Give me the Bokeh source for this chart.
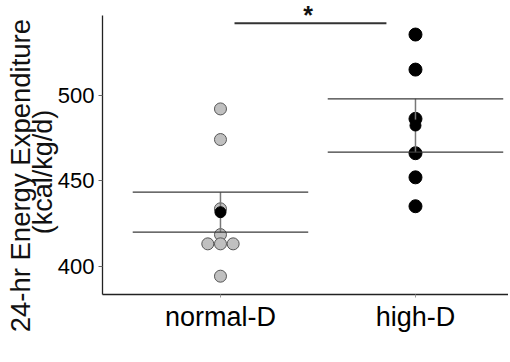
from bokeh.plotting import figure
from bokeh.models import Range1d, FixedTicker, Label
from bokeh.embed import file_html
from bokeh.resources import INLINE
import math

# ---- data ----
categories = ["normal-D", "high-D"]
normal_values = [492.0, 474.1, 433.6, 418.5, 413.1, 413.1, 413.1, 394.2]
normal_dodge = [0.0, 0.0, 0.0, 0.0, -0.065, 0.0, 0.065, 0.0]
high_values = [535.5, 515.0, 486.2, 466.1, 452.0, 435.1]
group_means = [431.6, 482.3]
group_sems = [11.7, 15.6]
y_ticks = [400, 450, 500]
sig_value = 542.1
sig_label = "*"
y_label_1 = "24-hr Energy Expenditure"
y_label_2 = "(kcal/kg/d)"

FONT = "Liberation Sans"

# axis extents (data units)
Y_LO, Y_HI = 383.5, 546.6
X_LO, X_HI = 0.395, 2.477

p = figure(width=508, height=354, output_backend="svg", toolbar_location=None,
           x_range=Range1d(-0.128, 2.477), y_range=Range1d(348.4, 555.4),
           min_border_left=0, min_border_right=0, min_border_top=0, min_border_bottom=0)
p.outline_line_color = None
p.xgrid.visible = False
p.ygrid.visible = False
p.background_fill_color = "white"
p.border_fill_color = "white"

# axes (placed inside the frame so the titles can sit beside them)
p.yaxis.fixed_location = X_LO
p.yaxis.bounds = (Y_LO, Y_HI)
p.yaxis.ticker = FixedTicker(ticks=y_ticks)
p.yaxis.minor_tick_line_color = None
p.yaxis.major_tick_in = 0
p.yaxis.major_tick_out = 4
p.yaxis.major_label_standoff = 4
p.yaxis.major_label_text_font = FONT
p.yaxis.major_label_text_font_size = "22px"
p.yaxis.major_label_text_color = "black"
p.yaxis.axis_line_color = "#222222"
p.yaxis.axis_line_width = 1.3
p.yaxis.major_tick_line_color = "#666666"

p.xaxis.fixed_location = Y_LO
p.xaxis.bounds = (X_LO, X_HI)
p.xaxis.ticker = FixedTicker(ticks=[1, 2])
p.xaxis.major_label_overrides = {i + 1: c for i, c in enumerate(categories)}
p.xaxis.minor_tick_line_color = None
p.xaxis.major_tick_in = 0
p.xaxis.major_tick_out = 3
p.xaxis.major_label_standoff = 5
p.xaxis.major_label_text_font = FONT
p.xaxis.major_label_text_font_size = "27px"
p.xaxis.major_label_text_color = "black"
p.xaxis.axis_line_color = "#222222"
p.xaxis.axis_line_width = 1.3
p.xaxis.major_tick_line_color = "#999999"

# points
p.scatter(x=[1 + d for d in normal_dodge], y=normal_values, size=12,
          fill_color="#c0c0c0", line_color="#555555", line_width=1)
p.scatter(x=[2] * len(high_values), y=high_values, size=13,
          fill_color="black", line_color="black")

# error bars (mean ± SEM)
xs = [1, 2]
lo = [m - s for m, s in zip(group_means, group_sems)]
hi = [m + s for m, s in zip(group_means, group_sems)]
p.segment(x0=xs, y0=lo, x1=xs, y1=hi, line_color="#777777", line_width=1.5)
p.segment(x0=[x - 0.45 for x in xs], y0=hi, x1=[x + 0.45 for x in xs], y1=hi,
          line_color="#3a3a3a", line_width=1.2)
p.segment(x0=[x - 0.45 for x in xs], y0=lo, x1=[x + 0.45 for x in xs], y1=lo,
          line_color="#3a3a3a", line_width=1.2)
p.scatter(x=xs, y=group_means, size=11, fill_color="black", line_color="black")

# significance bar
p.segment(x0=[1.072], y0=[sig_value], x1=[1.851], y1=[sig_value],
          line_color="#333333", line_width=2)
p.add_layout(Label(x=1.45, y=546.7, text=sig_label, text_font=FONT,
                   text_font_size="25px", text_font_style="bold",
                   text_align="center", text_baseline="alphabetic",
                   text_color="#111111"))

# y axis title (two lines, overlapping as in the reference)
p.add_layout(Label(x=-0.028, y=453.0, text=y_label_1,
                   angle=math.pi / 2, text_font=FONT, text_font_size="27.5px",
                   text_align="center", text_baseline="alphabetic", text_color="#111111"))
p.add_layout(Label(x=0.092, y=455.1, text=y_label_2,
                   angle=math.pi / 2, text_font=FONT, text_font_size="27px",
                   text_align="center", text_baseline="alphabetic", text_color="#111111"))

open("out.html", "w").write(file_html(p, INLINE))
